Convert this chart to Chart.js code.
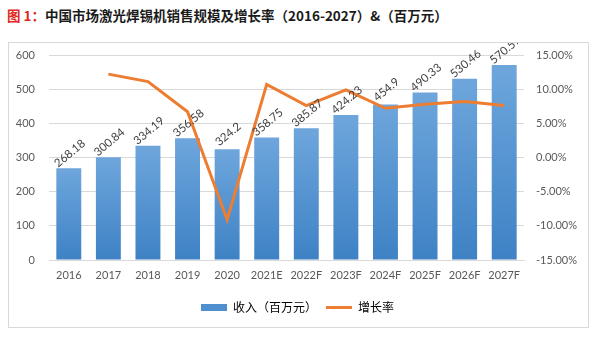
<!DOCTYPE html>
<html>
<head>
<meta charset="utf-8">
<script src="https://cdn.jsdelivr.net/npm/chart.js@4"></script>
<style>
  body { margin: 0; background: #fff; width: 600px; height: 358px; position: relative; font-family: Lato, "Noto Sans CJK SC", sans-serif; }
  #title { position: absolute; left: 7px; top: 5px; font: bold 13.5px "Noto Sans CJK SC", sans-serif; color: #1a1a1a; white-space: nowrap; }
  #title .red { color: #e0281e; }
  #box { position: absolute; left: 8px; top: 42px; width: 581px; height: 286px; border: 1px solid #d9d9d9; box-sizing: border-box; }
</style>
</head>
<body>
<div id="title"><span class="red">图 1：</span>中国市场激光焊锡机销售规模及增长率（2016-2027）&amp;（百万元）</div>
<div id="box"><canvas id="myChart"></canvas></div>
<script>
  const years = ['2016', '2017', '2018', '2019', '2020', '2021E', '2022F', '2023F', '2024F', '2025F', '2026F', '2027F'];
  const revenue = [268.18, 300.84, 334.19, 356.58, 324.2, 358.75, 385.87, 424.23, 454.9, 490.33, 530.46, 570.57];
  const growth = [null, 12.2, 11.1, 6.7, -9.1, 10.7, 7.6, 9.9, 7.2, 7.8, 8.2, 7.6];
  const leftTicks = [0, 100, 200, 300, 400, 500, 600];
  const rightTicks = [-15, -10, -5, 0, 5, 10, 15];

  const ctx = document.getElementById('myChart').getContext('2d');

  // gradient per bar, light at top, darker at the bottom
  function barFill(context) {
    const chart = context.chart;
    const area = chart.chartArea;
    if (!area || context.parsed == null) return '#5b9bd5';
    const top = chart.scales.y.getPixelForValue(context.parsed.y);
    const g = chart.ctx.createLinearGradient(0, top, 0, area.bottom);
    g.addColorStop(0, '#6ea6dc');
    g.addColorStop(1, '#3e82c5');
    return g;
  }

  // rotated value labels above the bars
  const barLabels = {
    id: 'barLabels',
    afterDatasetsDraw(chart) {
      const meta = chart.getDatasetMeta(0);
      const c = chart.ctx;
      c.save();
      c.font = '11.5px Lato, sans-serif';
      c.fillStyle = '#404040';
      c.textAlign = 'center';
      c.textBaseline = 'middle';
      meta.data.forEach((bar, i) => {
        c.save();
        c.translate(bar.x + 1, bar.y - 15);
        c.rotate(-40 * Math.PI / 180);
        c.fillText(String(revenue[i]), 0, 0);
        c.restore();
      });
      c.restore();
    }
  };

  // y axes: keep the label padding from pushing the plot down
  function fitY(width) {
    return axis => {
      axis.width = width;
      axis.paddingTop = 7;
      axis.paddingBottom = 7;
    };
  }

  new Chart(ctx, {
    type: 'bar',
    data: {
      labels: years,
      datasets: [{
        label: '收入（百万元）',
        data: revenue,
        backgroundColor: barFill,
        categoryPercentage: 1,
        barPercentage: 0.63,
        yAxisID: 'y',
        order: 2
      }, {
        type: 'line',
        label: '增长率',
        data: growth,
        borderColor: '#ed7d31',
        borderWidth: 3,
        pointRadius: 0,
        tension: 0,
        yAxisID: 'y1',
        order: 1
      }]
    },
    options: {
      responsive: true,
      maintainAspectRatio: false,
      animation: false,
      layout: { padding: { top: 12, left: 0, right: 2, bottom: 3.5 } },
      plugins: {
        tooltip: { enabled: false },
        legend: {
          position: 'bottom',
          labels: {
            usePointStyle: true,
            pointStyleWidth: 26,
            boxHeight: 7,
            padding: 9,
            color: '#666',
            font: { size: 12, family: '"Noto Sans CJK SC", sans-serif' },
            generateLabels: function() {
              return [
                { text: '收入（百万元）', fillStyle: '#4f8fd0', strokeStyle: '#4f8fd0', lineWidth: 0, pointStyle: 'rect', datasetIndex: 0 },
                { text: '增长率', fillStyle: '#ed7d31', strokeStyle: '#ed7d31', lineWidth: 3, pointStyle: 'line', datasetIndex: 1 }
              ];
            }
          }
        }
      },
      scales: {
        x: {
          afterFit: axis => { axis.height = 32.5; },
          grid: { display: false, drawTicks: false },
          border: { color: '#d9d9d9' },
          ticks: { color: '#595959', padding: 9, font: { size: 11, family: 'Lato' }, maxRotation: 0, autoSkip: false }
        },
        y: {
          position: 'left',
          min: leftTicks[0],
          max: leftTicks[leftTicks.length - 1],
          afterBuildTicks: axis => { axis.ticks = leftTicks.map(v => ({ value: v })); },
          afterFit: fitY(40),
          grid: { color: '#d9d9d9', drawTicks: false },
          border: { display: false },
          ticks: { color: '#595959', padding: 14, font: { size: 11, family: 'Lato' } }
        },
        y1: {
          position: 'right',
          min: rightTicks[0],
          max: rightTicks[rightTicks.length - 1],
          afterBuildTicks: axis => { axis.ticks = rightTicks.map(v => ({ value: v })); },
          afterFit: fitY(62),
          grid: { display: false, drawTicks: false },
          border: { display: false },
          ticks: {
            color: '#595959', padding: 12, font: { size: 11, family: 'Lato' },
            callback: v => v.toFixed(2) + '%'
          }
        }
      }
    },
    plugins: [barLabels]
  });
</script>
</body>
</html>
